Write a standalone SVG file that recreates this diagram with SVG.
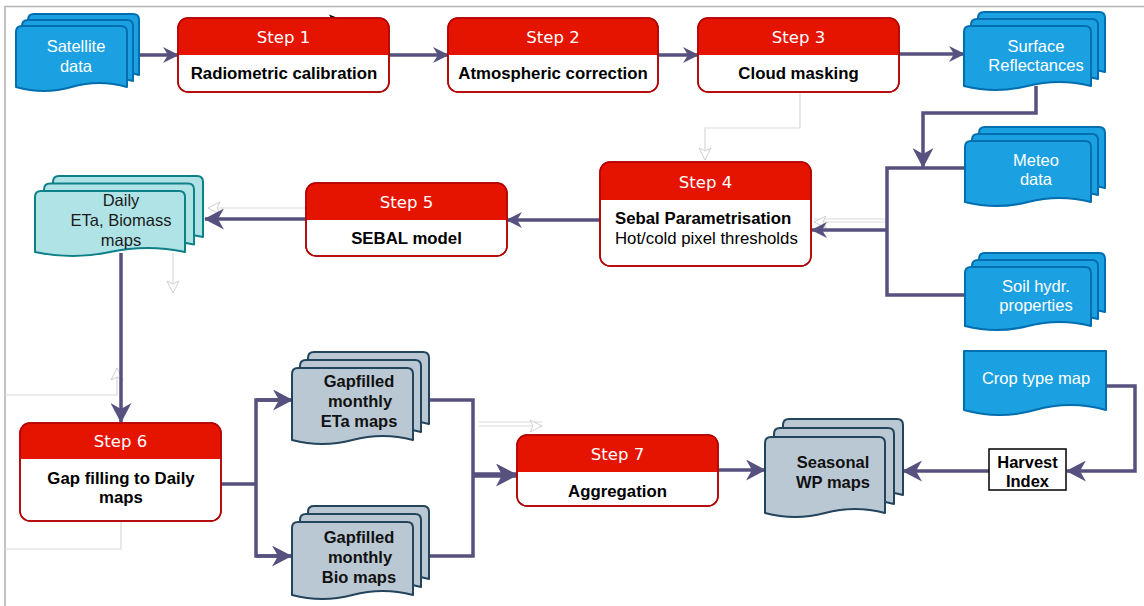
<svg xmlns="http://www.w3.org/2000/svg" width="1144" height="606" viewBox="0 0 1144 606">
<style>
.frame{stroke:#b4b4b4;stroke-width:1.6;fill:none}
.blue{fill:#1ba1e2;stroke:#006eaf;stroke-width:2;stroke-linejoin:round}
.teal{fill:#b0e3e6;stroke:#0e8088;stroke-width:2;stroke-linejoin:round}
.slate{fill:#bac8d3;stroke:#23445d;stroke-width:2;stroke-linejoin:round}
.hdr{fill:#e51400}
.box{fill:#ffffff;stroke:#b20000;stroke-width:1.5}
.outl{fill:none;stroke:#b20000;stroke-width:1.5}
.title{font-family:"DejaVu Sans",Verdana,sans-serif;font-size:16.5px;fill:#ffffff;text-anchor:middle}
.body{font-family:"Liberation Sans",Arial,sans-serif;font-size:16.8px;font-weight:bold;fill:#000000;text-anchor:middle}
.wt{font-family:"Liberation Sans",Arial,sans-serif;font-size:16.5px;fill:#ffffff;text-anchor:middle}
.dk{font-family:"Liberation Sans",Arial,sans-serif;font-size:16.5px;fill:#1a1a1a;text-anchor:middle}
.dkb{font-family:"Liberation Sans",Arial,sans-serif;font-size:16.5px;font-weight:bold;fill:#111111;text-anchor:middle}
.c{fill:none;stroke:#56517e;stroke-width:3.5;stroke-linejoin:miter}
.ghost{fill:none;stroke:#dadada;stroke-width:1.2}
</style>
<defs>
<marker id="arr" viewBox="0 0 16 16" refX="15" refY="8" markerWidth="16" markerHeight="16" markerUnits="userSpaceOnUse" orient="auto">
<path d="M0,0 L16,8 L0,16 L5,8 Z" fill="#56517e"/>
</marker>
<marker id="arrL" viewBox="0 0 20 21" refX="19" refY="10.5" markerWidth="20" markerHeight="21" markerUnits="userSpaceOnUse" orient="auto">
<path d="M0,0 L20,10.5 L0,21 L6,10.5 Z" fill="#56517e"/>
</marker>
<marker id="arrXL" viewBox="0 0 22 23" refX="21" refY="11.5" markerWidth="22" markerHeight="23" markerUnits="userSpaceOnUse" orient="auto">
<path d="M0,0 L22,11.5 L0,23 L6,11.5 Z" fill="#56517e"/>
</marker>
<marker id="gh" viewBox="0 0 14 14" refX="13" refY="7" markerWidth="14" markerHeight="14" markerUnits="userSpaceOnUse" orient="auto">
<path d="M1,1 L13,7 L1,13 L4,7 Z" fill="#ffffff" stroke="#d0d0d0" stroke-width="1"/>
</marker>
</defs>
<rect width="1144" height="606" fill="#ffffff"/>
<path class="frame" d="M5,606 V6.5 H1144"/>

<g id="connectors">
<path class="ghost" d="M800,92 V128 H705 V160" marker-end="url(#gh)"/>
<path class="ghost" d="M886,219 H814"/>
<path class="ghost" d="M886,222 H814" marker-end="url(#gh)"/>
<path class="ghost" d="M306,208 H208" marker-end="url(#gh)"/>
<path class="ghost" d="M173,253 V293" marker-end="url(#gh)"/>
<path class="ghost" d="M5,395 H117 V368" marker-end="url(#gh)"/>
<path class="ghost" d="M5,549 H121 V521"/>
<path class="ghost" d="M479,422 H542"/>
<path class="ghost" d="M479,426 H542" marker-end="url(#gh)"/>
<path d="M329,14.5 L338,18 L329,21.5 L331,18 Z" fill="#000000"/>

<path class="c" d="M139,55 H178" marker-end="url(#arr)"/>
<path class="c" d="M389,55 H448" marker-end="url(#arr)"/>
<path class="c" d="M658,55 H698" marker-end="url(#arr)"/>
<path class="c" d="M899,54 H964" marker-end="url(#arr)"/>
<path class="c" d="M1036,86 V113 H923 V167" marker-end="url(#arrL)"/>
<path class="c" d="M965,168 H887 V295 H965"/>
<path class="c" d="M887,230 H812" marker-end="url(#arr)"/>
<path class="c" d="M600,220 H507" marker-end="url(#arr)"/>
<path class="c" d="M306,219 H205" marker-end="url(#arrL)"/>
<path class="c" d="M121,253 V422" marker-end="url(#arrL)"/>
<path class="c" d="M221,484 H256"/>
<path class="c" d="M292,400 H256 V556 H292"/>
<path class="c" d="M256,400 H292" marker-end="url(#arrL)"/>
<path class="c" d="M256,556 H291" marker-end="url(#arrL)"/>
<path class="c" d="M429,400 H473 V556 H429"/>
<path class="c" d="M473,475 H517" style="stroke-width:5.5" marker-end="url(#arrXL)"/>
<path class="c" d="M718,470 H765" marker-end="url(#arrL)"/>
<path class="c" d="M989,471 H903" marker-end="url(#arrL)"/>
<path class="c" d="M1106,386 H1135 V471 H1067" marker-end="url(#arrL)"/>
</g>

<g id="satellite">
<path class="blue" transform="translate(28,14)" d="M0,6Q0,0 6,0H105Q111,0 111,6V61Q83,53 55.5,61Q28,69 0,61Z"/>
<path class="blue" transform="translate(22,20)" d="M0,6Q0,0 6,0H105Q111,0 111,6V61Q83,53 55.5,61Q28,69 0,61Z"/>
<path class="blue" transform="translate(16,26)" d="M0,6Q0,0 6,0H105Q111,0 111,6V61Q83,53 55.5,61Q28,69 0,61Z"/>
<text class="wt" x="76" y="52">Satellite</text>
<text class="wt" x="76" y="72">data</text>
</g>

<g id="step1">
<rect class="box" x="178" y="18" width="211" height="74" rx="10"/>
<path class="hdr" d="M178,55 V28 Q178,18 188,18 H379 Q389,18 389,28 V55 Z"/>
<rect class="outl" x="178" y="18" width="211" height="74" rx="10"/>
<text class="title" x="283.5" y="43">Step 1</text>
<text class="body" x="284" y="79">Radiometric calibration</text>
</g>

<g id="step2">
<rect class="box" x="448" y="18" width="210" height="74" rx="10"/>
<path class="hdr" d="M448,55 V28 Q448,18 458,18 H648 Q658,18 658,28 V55 Z"/>
<rect class="outl" x="448" y="18" width="210" height="74" rx="10"/>
<text class="title" x="553" y="43">Step 2</text>
<text class="body" x="553" y="79">Atmospheric correction</text>
</g>

<g id="step3">
<rect class="box" x="698" y="18" width="201" height="74" rx="10"/>
<path class="hdr" d="M698,55 V28 Q698,18 708,18 H889 Q899,18 899,28 V55 Z"/>
<rect class="outl" x="698" y="18" width="201" height="74" rx="10"/>
<text class="title" x="798.5" y="43">Step 3</text>
<text class="body" x="798.5" y="79">Cloud masking</text>
</g>

<g id="surface">
<path class="blue" transform="translate(978,12)" d="M0,6Q0,0 6,0H121Q127,0 127,6V60Q95,52 63.5,60Q32,68 0,60Z"/>
<path class="blue" transform="translate(971,19)" d="M0,6Q0,0 6,0H121Q127,0 127,6V60Q95,52 63.5,60Q32,68 0,60Z"/>
<path class="blue" transform="translate(964,26)" d="M0,6Q0,0 6,0H121Q127,0 127,6V60Q95,52 63.5,60Q32,68 0,60Z"/>
<text class="wt" x="1036" y="52">Surface</text>
<text class="wt" x="1036" y="71">Reflectances</text>
</g>

<g id="meteo">
<path class="blue" transform="translate(979,127)" d="M0,6Q0,0 6,0H120Q126,0 126,6V61Q94.5,53 63,61Q31.5,69 0,61Z"/>
<path class="blue" transform="translate(972,134)" d="M0,6Q0,0 6,0H120Q126,0 126,6V61Q94.5,53 63,61Q31.5,69 0,61Z"/>
<path class="blue" transform="translate(965,141)" d="M0,6Q0,0 6,0H120Q126,0 126,6V61Q94.5,53 63,61Q31.5,69 0,61Z"/>
<text class="wt" x="1036" y="166">Meteo</text>
<text class="wt" x="1036" y="185">data</text>
</g>

<g id="soil">
<path class="blue" transform="translate(979,253)" d="M0,6Q0,0 6,0H120Q126,0 126,6V59Q94.5,51 63,59Q31.5,67 0,59Z"/>
<path class="blue" transform="translate(972,260)" d="M0,6Q0,0 6,0H120Q126,0 126,6V59Q94.5,51 63,59Q31.5,67 0,59Z"/>
<path class="blue" transform="translate(965,267)" d="M0,6Q0,0 6,0H120Q126,0 126,6V59Q94.5,51 63,59Q31.5,67 0,59Z"/>
<text class="wt" x="1036" y="292">Soil hydr.</text>
<text class="wt" x="1036" y="311">properties</text>
</g>

<g id="step4">
<rect class="box" x="600" y="162" width="211" height="104" rx="10"/>
<path class="hdr" d="M600,200 V172 Q600,162 610,162 H801 Q811,162 811,172 V200 Z"/>
<rect class="outl" x="600" y="162" width="211" height="104" rx="10"/>
<text class="title" x="705.5" y="188">Step 4</text>
<text class="body" x="615" y="224" style="text-anchor:start">Sebal Parametrisation</text>
<text class="body" x="615" y="244" style="text-anchor:start;font-weight:normal">Hot/cold pixel thresholds</text>
</g>

<g id="step5">
<rect class="box" x="306" y="183" width="201" height="73" rx="10"/>
<path class="hdr" d="M306,220 V193 Q306,183 316,183 H497 Q507,183 507,193 V220 Z"/>
<rect class="outl" x="306" y="183" width="201" height="73" rx="10"/>
<text class="title" x="406.5" y="208">Step 5</text>
<text class="body" x="406.5" y="244">SEBAL model</text>
</g>

<g id="daily">
<path class="teal" transform="translate(53,176)" d="M0,6Q0,0 6,0H144Q150,0 150,6V61Q112.5,53 75,61Q37.5,69 0,61Z"/>
<path class="teal" transform="translate(44,183.5)" d="M0,6Q0,0 6,0H144Q150,0 150,6V61Q112.5,53 75,61Q37.5,69 0,61Z"/>
<path class="teal" transform="translate(35,191)" d="M0,6Q0,0 6,0H144Q150,0 150,6V61Q112.5,53 75,61Q37.5,69 0,61Z"/>
<text class="dk" x="121" y="206">Daily</text>
<text class="dk" x="121" y="226">ETa, Biomass</text>
<text class="dk" x="121" y="246">maps</text>
</g>

<g id="step6">
<rect class="box" x="20" y="423" width="201" height="98" rx="10"/>
<path class="hdr" d="M20,459 V433 Q20,423 30,423 H211 Q221,423 221,433 V459 Z"/>
<rect class="outl" x="20" y="423" width="201" height="98" rx="10"/>
<text class="title" x="120.5" y="447">Step 6</text>
<text class="body" x="121" y="484">Gap filling to Daily</text>
<text class="body" x="121" y="503">maps</text>
</g>

<g id="gapeta">
<path class="slate" transform="translate(308,352)" d="M0,6Q0,0 6,0H115Q121,0 121,6V72Q90.75,64 60.5,72Q30.25,80 0,72Z"/>
<path class="slate" transform="translate(300,360)" d="M0,6Q0,0 6,0H115Q121,0 121,6V72Q90.75,64 60.5,72Q30.25,80 0,72Z"/>
<path class="slate" transform="translate(292,368)" d="M0,6Q0,0 6,0H115Q121,0 121,6V72Q90.75,64 60.5,72Q30.25,80 0,72Z"/>
<text class="dkb" x="359" y="387">Gapfilled</text>
<text class="dkb" x="360" y="407">monthly</text>
<text class="dkb" x="359" y="427">ETa maps</text>
</g>

<g id="gapbio">
<path class="slate" transform="translate(308,506)" d="M0,6Q0,0 6,0H115Q121,0 121,6V73Q90.75,65 60.5,73Q30.25,81 0,73Z"/>
<path class="slate" transform="translate(300,514)" d="M0,6Q0,0 6,0H115Q121,0 121,6V73Q90.75,65 60.5,73Q30.25,81 0,73Z"/>
<path class="slate" transform="translate(292,522)" d="M0,6Q0,0 6,0H115Q121,0 121,6V73Q90.75,65 60.5,73Q30.25,81 0,73Z"/>
<text class="dkb" x="359" y="543">Gapfilled</text>
<text class="dkb" x="360" y="563">monthly</text>
<text class="dkb" x="359" y="583">Bio maps</text>
</g>

<g id="step7">
<rect class="box" x="517" y="435" width="201" height="71" rx="10"/>
<path class="hdr" d="M517,472 V445 Q517,435 527,435 H708 Q718,435 718,445 V472 Z"/>
<rect class="outl" x="517" y="435" width="201" height="71" rx="10"/>
<text class="title" x="617.5" y="460">Step 7</text>
<text class="body" x="617.5" y="497">Aggregation</text>
</g>

<g id="seasonal">
<path class="slate" transform="translate(783,419)" d="M0,6Q0,0 6,0H114Q120,0 120,6V76Q90,68 60,76Q30,84 0,76Z"/>
<path class="slate" transform="translate(774,428)" d="M0,6Q0,0 6,0H114Q120,0 120,6V76Q90,68 60,76Q30,84 0,76Z"/>
<path class="slate" transform="translate(765,437)" d="M0,6Q0,0 6,0H114Q120,0 120,6V76Q90,68 60,76Q30,84 0,76Z"/>
<text class="dkb" x="833" y="468">Seasonal</text>
<text class="dkb" x="833" y="488">WP maps</text>
</g>

<g id="croptype">
<path class="blue" transform="translate(964,351)" d="M0,0H142V59Q106.5,49 71,59Q35.5,69 0,59Z"/>
<text class="wt" x="1036" y="384">Crop type map</text>
</g>

<g id="harvest">
<rect x="989" y="449" width="77" height="41" fill="#ffffff" stroke="#000000" stroke-width="1.5"/>
<text class="dkb" x="1027.5" y="468" style="fill:#000000">Harvest</text>
<text class="dkb" x="1027.5" y="487" style="fill:#000000">Index</text>
</g>
</svg>
